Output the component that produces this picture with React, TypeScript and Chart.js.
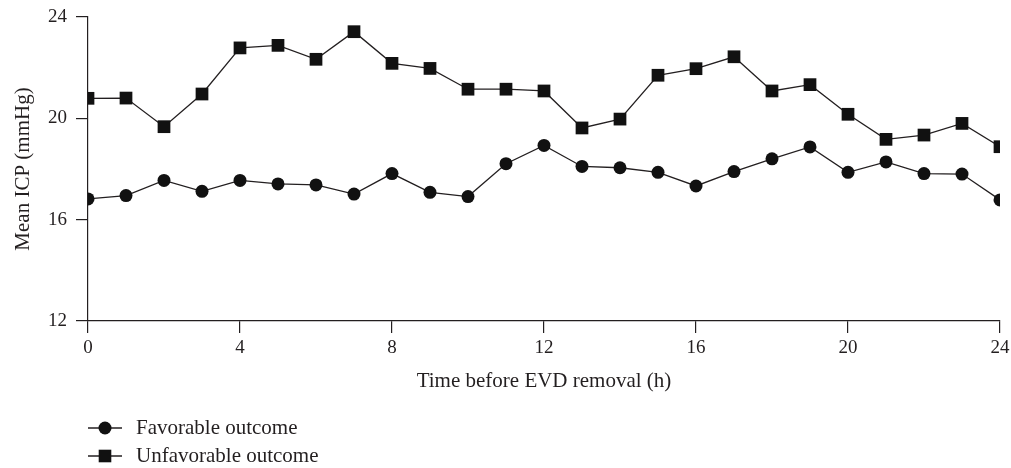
import React, { useEffect, useRef } from "react";
import { Chart, registerables } from "chart.js";

Chart.register(...registerables);

const hours: number[] = [0, 1, 2, 3, 4, 5, 6, 7, 8, 9, 10, 11, 12, 13, 14, 15, 16, 17, 18, 19, 20, 21, 22, 23, 24];
const favorable: number[] = [16.82, 16.95, 17.55, 17.12, 17.55, 17.41, 17.37, 17.01, 17.82, 17.08, 16.91, 18.21, 18.93, 18.1, 18.05, 17.87, 17.33, 17.9, 18.4, 18.87, 17.87, 18.28, 17.82, 17.8, 16.78];
const unfavorable: number[] = [20.79, 20.8, 19.67, 20.96, 22.78, 22.88, 22.33, 23.42, 22.17, 21.97, 21.15, 21.15, 21.08, 19.62, 19.97, 21.7, 21.96, 22.43, 21.08, 21.33, 20.16, 19.17, 19.34, 19.8, 18.88];
const seriesNames: string[] = ["Favorable outcome", "Unfavorable outcome"];
const xTitle = "Time before EVD removal (h)";
const yTitle = "Mean ICP (mmHg)";

const INK = "#231f20";
const FONT = "'Liberation Serif', 'Times New Roman', serif";

const legendPlugin = {
  id: "customLegend",
  afterDraw(chart: any) {
    const ctx = chart.ctx;
    const rows = [428, 456];
    ctx.save();
    chart.data.datasets.forEach((ds: any, i: number) => {
      const y = rows[i];
      ctx.strokeStyle = INK;
      ctx.lineWidth = 1.3;
      ctx.beginPath();
      ctx.moveTo(88, y);
      ctx.lineTo(122, y);
      ctx.stroke();
      ctx.fillStyle = "#111";
      if (ds.pointStyle === "rect") {
        ctx.fillRect(105 - 6.3, y - 6.3, 12.6, 12.6);
      } else {
        ctx.beginPath();
        ctx.arc(105, y, 6.5, 0, Math.PI * 2);
        ctx.fill();
      }
      ctx.fillStyle = INK;
      ctx.font = `21px ${FONT}`;
      ctx.textBaseline = "middle";
      ctx.textAlign = "left";
      ctx.fillText(ds.label, 136, y);
    });
    ctx.restore();
  },
};

export default function App() {
  const ref = useRef<HTMLCanvasElement | null>(null);
  useEffect(() => {
    if (!ref.current) return;
    const chart = new Chart(ref.current, {
      type: "line",
      data: {
        datasets: [
          {
            label: seriesNames[0],
            data: hours.map((h, i) => ({ x: h, y: favorable[i] })),
            borderColor: INK,
            backgroundColor: "#111",
            borderWidth: 1.3,
            pointStyle: "circle",
            pointRadius: 6.5,
            pointBorderWidth: 0,
            tension: 0,
          },
          {
            label: seriesNames[1],
            data: hours.map((h, i) => ({ x: h, y: unfavorable[i] })),
            borderColor: INK,
            backgroundColor: "#111",
            borderWidth: 1.3,
            pointStyle: "rect",
            pointRadius: 9,
            pointBorderWidth: 0,
            tension: 0,
          },
        ],
      },
      options: {
        animation: false,
        responsive: false,
        layout: { autoPadding: false, padding: { left: 0, right: 11, top: 17, bottom: 0 } },
        plugins: { legend: { display: false }, tooltip: { enabled: false } },
        scales: {
          x: {
            type: "linear",
            min: 0,
            max: 24,
            ticks: { stepSize: 4, color: INK, font: { family: FONT, size: 19 }, padding: 4, maxRotation: 0 },
            grid: { drawOnChartArea: false, drawTicks: true, tickLength: 12, color: INK, lineWidth: 1.2 },
            border: { display: true, color: INK, width: 1.2 },
            title: { display: true, text: xTitle, color: INK, font: { family: FONT, size: 21 }, padding: { top: 0, bottom: 74 } },
            afterFit: (s: any) => { s.height = 147; s.paddingLeft = 0; s.paddingRight = 0; },
          },
          y: {
            min: 12,
            max: 24,
            ticks: { stepSize: 4, color: INK, font: { family: FONT, size: 19 }, padding: 9 },
            grid: { drawOnChartArea: false, drawTicks: true, tickLength: 12, color: INK, lineWidth: 1.2 },
            border: { display: true, color: INK, width: 1.2 },
            title: { display: true, text: yTitle, color: INK, font: { family: FONT, size: 21 }, padding: { top: 11, bottom: 0 } },
            afterFit: (s: any) => { s.width = 88; s.paddingTop = 0; s.paddingBottom = 0; },
          },
        },
      },
      plugins: [legendPlugin],
    });
    return () => chart.destroy();
  }, []);
  return (
    <div style={{ position: "fixed", left: 0, top: 0, width: 1011, height: 468, background: "#fff" }}>
      <canvas ref={ref} width={1011} height={468} />
    </div>
  );
}
